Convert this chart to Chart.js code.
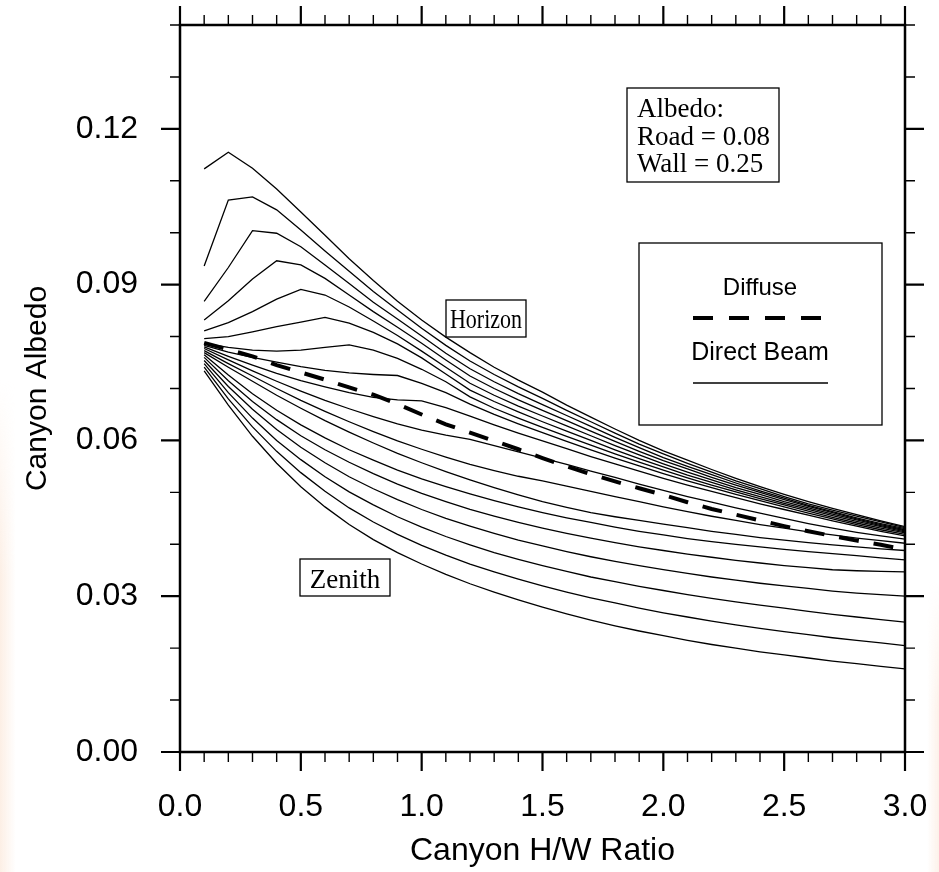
<!DOCTYPE html>
<html>
<head>
<meta charset="utf-8">
<script src="https://cdn.jsdelivr.net/npm/chart.js@4"></script>
<style>
  html, body { margin: 0; padding: 0; background: #fff; }
  #wrap { position: relative; width: 939px; height: 872px; }
  #wrap canvas { position: absolute; left: 0; top: 0; }
  .tint { position: absolute; }
  #tintL { left: 0; top: 380px; width: 16px; height: 492px;
           background: linear-gradient(to right, rgba(250,226,208,0.55), rgba(255,255,255,0));
           -webkit-mask-image: linear-gradient(to bottom, transparent, #000 40%);
           mask-image: linear-gradient(to bottom, transparent, #000 40%); }
  #tintR { right: 0; top: 580px; width: 12px; height: 292px;
           background: linear-gradient(to left, rgba(250,228,212,0.5), rgba(255,255,255,0));
           -webkit-mask-image: linear-gradient(to bottom, transparent, #000 45%);
           mask-image: linear-gradient(to bottom, transparent, #000 45%); }
</style>
</head>
<body>
<div id="wrap">
  <div class="tint" id="tintL"></div>
  <div class="tint" id="tintR"></div>
  <canvas id="albedo" width="939" height="872"></canvas>
</div>
<script>
// canyon height/width ratio
const hw = [0.1,0.2,0.3,0.4,0.5,0.6,0.7,0.8,0.9,1.0,1.1,1.2,1.3,1.4,1.5,1.6,1.7,1.8,1.9,2.0,
            2.1,2.2,2.3,2.4,2.5,2.6,2.7,2.8,2.9,3.0];

// diffuse canyon albedo (dashed)
const diffuse = [0.0788,0.0775,0.0762,0.0745,0.0731,0.0717,0.0702,0.0688,0.0670,0.0650,
                 0.0631,0.0615,0.0599,0.0583,0.0566,0.0550,0.0535,0.0521,0.0508,0.0495,
                 0.0481,0.0468,0.0457,0.0446,0.0435,0.0425,0.0416,0.0407,0.0399,0.0390];

// direct beam, from horizon (top) down to zenith (bottom)
const beam01 = [0.1123,0.1155,0.1124,0.1084,0.1040,0.0995,0.0950,0.0908,0.0868,0.0832,
                0.0799,0.0769,0.0741,0.0716,0.0693,0.0668,0.0645,0.0622,0.0600,0.0580,
                0.0562,0.0544,0.0527,0.0511,0.0496,0.0482,0.0469,0.0457,0.0445,0.0434];
const beam02 = [0.0936,0.1063,0.1069,0.1044,0.1005,0.0965,0.0926,0.0887,0.0851,0.0816,
                0.0783,0.0753,0.0727,0.0703,0.0681,0.0658,0.0636,0.0614,0.0593,0.0574,
                0.0556,0.0539,0.0522,0.0507,0.0492,0.0478,0.0466,0.0454,0.0443,0.0432];
const beam03 = [0.0868,0.0933,0.1004,0.0999,0.0973,0.0938,0.0902,0.0866,0.0834,0.0801,
                0.0768,0.0738,0.0713,0.0690,0.0669,0.0648,0.0627,0.0606,0.0586,0.0567,
                0.0550,0.0534,0.0518,0.0503,0.0489,0.0475,0.0463,0.0451,0.0440,0.0430];
const beam04 = [0.0832,0.0869,0.0911,0.0946,0.0938,0.0912,0.0880,0.0848,0.0818,0.0787,
                0.0755,0.0724,0.0700,0.0678,0.0658,0.0638,0.0618,0.0598,0.0579,0.0561,
                0.0545,0.0529,0.0514,0.0500,0.0486,0.0473,0.0461,0.0449,0.0438,0.0428];
const beam05 = [0.0811,0.0827,0.0848,0.0872,0.0891,0.0880,0.0857,0.0830,0.0802,0.0772,
                0.0741,0.0710,0.0687,0.0666,0.0647,0.0628,0.0609,0.0590,0.0572,0.0555,
                0.0539,0.0524,0.0509,0.0496,0.0482,0.0470,0.0458,0.0447,0.0436,0.0426];
const beam06 = [0.0796,0.0800,0.0809,0.0819,0.0828,0.0837,0.0826,0.0808,0.0786,0.0759,
                0.0728,0.0697,0.0675,0.0655,0.0636,0.0618,0.0600,0.0582,0.0565,0.0549,
                0.0533,0.0519,0.0505,0.0492,0.0479,0.0467,0.0455,0.0444,0.0434,0.0424];
const beam07 = [0.0787,0.0779,0.0774,0.0772,0.0774,0.0779,0.0784,0.0774,0.0758,0.0737,
                0.0713,0.0684,0.0662,0.0643,0.0625,0.0608,0.0591,0.0574,0.0558,0.0543,
                0.0528,0.0514,0.0501,0.0488,0.0476,0.0464,0.0452,0.0441,0.0431,0.0422];
const beam08 = [0.0783,0.0770,0.0760,0.0751,0.0742,0.0735,0.0730,0.0727,0.0725,0.0710,
                0.0692,0.0670,0.0650,0.0632,0.0615,0.0598,0.0582,0.0566,0.0551,0.0536,
                0.0522,0.0509,0.0496,0.0484,0.0472,0.0460,0.0449,0.0438,0.0428,0.0419];
const beam09 = [0.0780,0.0762,0.0745,0.0729,0.0715,0.0703,0.0692,0.0683,0.0678,0.0676,
                0.0663,0.0647,0.0630,0.0614,0.0599,0.0584,0.0569,0.0555,0.0541,0.0527,
                0.0514,0.0502,0.0490,0.0478,0.0467,0.0456,0.0445,0.0435,0.0425,0.0416];
const beam10 = [0.0777,0.0755,0.0734,0.0714,0.0695,0.0677,0.0661,0.0646,0.0632,0.0620,
                0.0610,0.0602,0.0590,0.0578,0.0566,0.0554,0.0541,0.0529,0.0516,0.0504,
                0.0492,0.0481,0.0470,0.0460,0.0450,0.0440,0.0431,0.0423,0.0416,0.0410];
const beam11 = [0.0773,0.0748,0.0724,0.0700,0.0677,0.0656,0.0636,0.0617,0.0599,0.0583,
                0.0568,0.0554,0.0542,0.0531,0.0522,0.0512,0.0502,0.0492,0.0482,0.0472,
                0.0463,0.0454,0.0446,0.0438,0.0431,0.0424,0.0418,0.0412,0.0407,0.0402];
const beam12 = [0.0769,0.0741,0.0714,0.0687,0.0662,0.0638,0.0616,0.0595,0.0575,0.0557,
                0.0540,0.0524,0.0509,0.0495,0.0482,0.0471,0.0461,0.0453,0.0446,0.0439,
                0.0432,0.0425,0.0419,0.0413,0.0408,0.0403,0.0399,0.0395,0.0391,0.0388];
const beam13 = [0.0765,0.0726,0.0690,0.0658,0.0630,0.0605,0.0582,0.0562,0.0543,0.0526,
                0.0511,0.0497,0.0484,0.0472,0.0461,0.0451,0.0442,0.0433,0.0425,0.0418,
                0.0411,0.0405,0.0400,0.0395,0.0390,0.0386,0.0382,0.0378,0.0374,0.0370];
const beam14 = [0.0760,0.0715,0.0675,0.0640,0.0609,0.0582,0.0558,0.0536,0.0516,0.0498,
                0.0482,0.0467,0.0454,0.0442,0.0431,0.0421,0.0412,0.0403,0.0395,0.0388,
                0.0381,0.0375,0.0369,0.0364,0.0359,0.0355,0.0351,0.0349,0.0348,0.0347];
const beam15 = [0.0754,0.0704,0.0660,0.0621,0.0587,0.0557,0.0530,0.0507,0.0486,0.0467,
                0.0450,0.0435,0.0421,0.0408,0.0397,0.0386,0.0376,0.0367,0.0359,0.0351,
                0.0344,0.0337,0.0331,0.0325,0.0320,0.0315,0.0310,0.0306,0.0303,0.0300];
const beam16 = [0.0748,0.0692,0.0643,0.0600,0.0563,0.0530,0.0501,0.0476,0.0453,0.0433,
                0.0415,0.0399,0.0384,0.0371,0.0359,0.0348,0.0337,0.0328,0.0319,0.0311,
                0.0303,0.0296,0.0289,0.0283,0.0277,0.0271,0.0265,0.0260,0.0255,0.0250];
const beam17 = [0.0741,0.0680,0.0626,0.0579,0.0538,0.0502,0.0470,0.0443,0.0419,0.0398,
                0.0379,0.0362,0.0347,0.0333,0.0320,0.0308,0.0297,0.0287,0.0277,0.0268,
                0.0260,0.0252,0.0245,0.0238,0.0232,0.0226,0.0220,0.0215,0.0210,0.0205];
const beam18 = [0.0734,0.0668,0.0608,0.0556,0.0511,0.0472,0.0438,0.0409,0.0384,0.0362,
                0.0342,0.0324,0.0308,0.0293,0.0279,0.0266,0.0254,0.0243,0.0233,0.0224,
                0.0215,0.0207,0.0200,0.0193,0.0187,0.0181,0.0175,0.0170,0.0165,0.0160];

const beams = [beam01,beam02,beam03,beam04,beam05,beam06,beam07,beam08,beam09,
               beam10,beam11,beam12,beam13,beam14,beam15,beam16,beam17,beam18];

// axis ticks
const xMajor = [0, 0.5, 1.0, 1.5, 2.0, 2.5, 3.0];
const yMajor = [0, 0.03, 0.06, 0.09, 0.12];
const xMinorStep = 0.1;
const yMinorStep = 0.01;

const SANS = '"Liberation Sans", Arial, Helvetica, sans-serif';
const SERIF = '"Liberation Serif", "Times New Roman", serif';

function toPoints(arr) {
  return arr.map((v, i) => ({ x: hw[i], y: v }));
}

const datasets = beams.map(b => ({
  data: toPoints(b),
  borderColor: '#000',
  borderWidth: 1.3,
  pointRadius: 0,
  tension: 0,
  fill: false
}));
datasets.push({
  data: toPoints(diffuse),
  borderColor: '#000',
  borderWidth: 4,
  borderDash: [20, 15],
  borderCapStyle: 'butt',
  pointRadius: 0,
  tension: 0,
  fill: false
});

// outward tick marks on all four sides plus the frame
const frameTicks = {
  id: 'frameTicks',
  afterDraw(chart) {
    const { ctx, chartArea: a, scales } = chart;
    const xs = scales.x, ys = scales.y;
    const bigLen = 19, smallLen = 10;
    ctx.save();
    ctx.strokeStyle = '#000';
    ctx.lineCap = 'butt';

    const eps = 1e-6;
    for (let v = xs.min; v <= xs.max + eps; v += xMinorStep) {
      const major = xMajor.some(m => Math.abs(m - v) < eps);
      const px = xs.getPixelForValue(v);
      const len = major ? bigLen : smallLen;
      ctx.lineWidth = major ? 2.2 : 1.4;
      ctx.beginPath();
      ctx.moveTo(px, a.bottom); ctx.lineTo(px, a.bottom + len);
      ctx.moveTo(px, a.top); ctx.lineTo(px, a.top - len);
      ctx.stroke();
    }
    for (let v = ys.min; v <= ys.max + eps; v += yMinorStep) {
      const major = yMajor.some(m => Math.abs(m - v) < eps);
      const py = ys.getPixelForValue(v);
      const len = major ? bigLen : smallLen;
      ctx.lineWidth = major ? 2.2 : 1.4;
      ctx.beginPath();
      ctx.moveTo(a.left, py); ctx.lineTo(a.left - len, py);
      ctx.moveTo(a.right, py); ctx.lineTo(a.right + len, py);
      ctx.stroke();
    }

    ctx.lineWidth = 2.5;
    ctx.strokeRect(a.left, a.top, a.right - a.left, a.bottom - a.top);
    ctx.restore();
  }
};

// boxed label; sy stretches the glyphs vertically
function textBox(ctx, lines, box, font, first, step, padX, sy) {
  const { x, y, w, h } = box;
  ctx.fillStyle = '#fff';
  ctx.fillRect(x, y, w, h);
  ctx.lineWidth = 1.3;
  ctx.strokeStyle = '#000';
  ctx.strokeRect(x, y, w, h);
  ctx.fillStyle = '#000';
  ctx.font = font;
  ctx.textBaseline = 'alphabetic';
  ctx.textAlign = padX == null ? 'center' : 'left';
  lines.forEach((t, i) => {
    const tx = padX == null ? x + w / 2 : x + padX;
    ctx.save();
    ctx.translate(tx, y + first + i * step);
    ctx.scale(1, sy || 1);
    ctx.fillText(t, 0, 0);
    ctx.restore();
  });
}

// text labels and the legend box
const annotations = {
  id: 'annotations',
  afterDraw(chart) {
    const ctx = chart.ctx;
    ctx.save();
    textBox(ctx, ['Albedo:', 'Road = 0.08', 'Wall = 0.25'], { x: 627, y: 88, w: 152, h: 94 },
            '27px ' + SERIF, 29, 27.5, 10);
    textBox(ctx, ['Horizon'], { x: 446, y: 300, w: 80, h: 37 }, '22px ' + SERIF, 28, 0, null, 1.2);
    textBox(ctx, ['Zenith'], { x: 300, y: 559, w: 90, h: 37 }, '27px ' + SERIF, 29, 0);

    // legend
    ctx.fillStyle = '#fff';
    ctx.fillRect(639, 243, 243, 182);
    ctx.lineWidth = 1.3;
    ctx.strokeStyle = '#000';
    ctx.strokeRect(639, 243, 243, 182);
    ctx.fillStyle = '#000';
    ctx.textAlign = 'center';
    ctx.textBaseline = 'alphabetic';
    ctx.font = '24px ' + SANS;
    ctx.fillText('Diffuse', 760, 295);
    ctx.font = '25px ' + SANS;
    ctx.fillText('Direct Beam', 760, 360);
    ctx.lineWidth = 4;
    ctx.setLineDash([20, 16]);
    ctx.beginPath(); ctx.moveTo(693, 318); ctx.lineTo(822, 318); ctx.stroke();
    ctx.setLineDash([]);
    ctx.lineWidth = 1.3;
    ctx.beginPath(); ctx.moveTo(693, 383); ctx.lineTo(828, 383); ctx.stroke();
    ctx.restore();
  }
};

new Chart(document.getElementById('albedo'), {
  type: 'line',
  data: { datasets },
  plugins: [frameTicks, annotations],
  options: {
    responsive: false,
    animation: false,
    events: [],
    layout: { padding: { left: 0, top: 25, right: 34, bottom: 0 } },
    plugins: { legend: { display: false }, tooltip: { enabled: false } },
    scales: {
      x: {
        type: 'linear',
        min: 0, max: 3,
        afterFit(scale) {
          scale.height = 120;
          scale.paddingLeft = 0; scale.paddingRight = 0;
        },
        afterBuildTicks(scale) { scale.ticks = xMajor.map(v => ({ value: v })); },
        grid: { display: false, drawTicks: false },
        border: { display: false },
        ticks: {
          color: '#000',
          padding: 36,
          font: { family: SANS, size: 32 },
          maxRotation: 0,
          callback: v => Number(v).toFixed(1)
        },
        title: {
          display: true,
          text: 'Canyon H/W Ratio',
          color: '#000',
          font: { family: SANS, size: 32 },
          padding: { top: 0, bottom: 2 }
        }
      },
      y: {
        type: 'linear',
        min: 0, max: 0.14,
        afterFit(scale) {
          scale.width = 180;
          scale.paddingTop = 0; scale.paddingBottom = 0;
        },
        afterBuildTicks(scale) { scale.ticks = yMajor.map(v => ({ value: v })); },
        grid: { display: false, drawTicks: false },
        border: { display: false },
        ticks: {
          color: '#000',
          padding: 42,
          font: { family: SANS, size: 32 },
          callback: v => Number(v).toFixed(2)
        },
        title: {
          display: true,
          text: 'Canyon Albedo',
          color: '#000',
          font: { family: SANS, size: 30 },
          padding: { top: 20, bottom: 0 }
        }
      }
    }
  }
});
</script>
</body>
</html>
